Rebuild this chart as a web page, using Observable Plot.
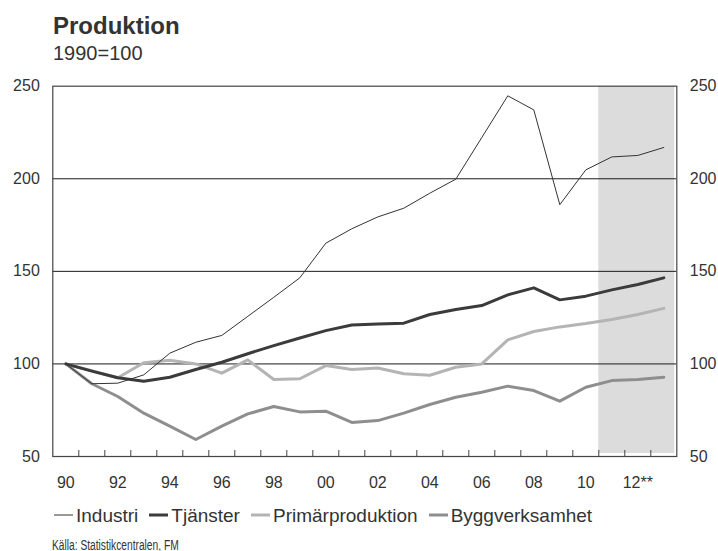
<!DOCTYPE html>
<html>
<head>
<meta charset="utf-8">
<script src="https://cdn.jsdelivr.net/npm/d3@7"></script>
<script src="https://cdn.jsdelivr.net/npm/@observablehq/plot@0.6"></script>
<style>
  body { margin: 0; background: #fff; font-family: "Liberation Sans", Arial, sans-serif; color: #333; }
  #wrap { position: relative; width: 718px; height: 551px; overflow: hidden; }
  .abs { position: absolute; line-height: 1; white-space: nowrap; }
  #title { left: 53px; top: 14px; font-size: 24px; font-weight: bold; }
  #subtitle { left: 53px; top: 43px; font-size: 20px; }
  #chart { position: absolute; left: 0; top: 70px; }
  #legend { left: 54px; top: 505.5px; font-size: 19px; display: flex; align-items: center; height: 19px; }
  .item { display: flex; align-items: center; margin-right: 11px; }
  .sw { width: 19px; margin-right: 3px; }
  #caption { left: 52px; top: 537.5px; font-size: 14px; transform: scaleX(0.73); transform-origin: left center; }
</style>
</head>
<body>
<div id="wrap">
  <div id="title" class="abs">Produktion</div>
  <div id="subtitle" class="abs">1990=100</div>
  <div id="chart"></div>
  <div id="legend" class="abs"></div>
  <div id="caption" class="abs">Källa: Statistikcentralen, FM</div>
</div>
<script>
const years = [1990,1991,1992,1993,1994,1995,1996,1997,1998,1999,2000,2001,2002,2003,2004,2005,2006,2007,2008,2009,2010,2011,2012,2013];
const industri = [100, 89.3, 89.6, 94.1, 105.8, 111.7, 115.4, 125.7, 136, 146.5, 165.2, 173, 179.4, 184.1, 192.2, 199.8, 222.3, 244.8, 237.2, 186, 204.8, 211.8, 212.6, 216.9];
const tjanster = [100, 96.1, 92.5, 90.7, 92.8, 97, 100.9, 105.5, 109.9, 114, 118, 121, 121.6, 122, 126.7, 129.4, 131.5, 137.3, 141.1, 134.6, 136.6, 140, 142.9, 146.5];
const primar = [100, 96.3, 92.5, 100.6, 102, 100, 95, 102.2, 91.6, 92, 99.1, 97, 97.8, 94.7, 93.9, 98.2, 100, 113, 117.5, 120, 121.8, 124, 126.7, 130];
const bygg = [100, 89.3, 82.4, 73.4, 66.4, 59.2, 66.4, 73, 77, 74.1, 74.5, 68.4, 69.4, 73.4, 78.1, 82, 84.7, 88, 85.6, 79.9, 87.4, 91, 91.6, 92.8];
const seriesNames = ["Industri", "Tjänster", "Primärproduktion", "Byggverksamhet"];
const forecastYears = [2011, 2012, 2013];
const tickYears = [1990,1992,1994,1996,1998,2000,2002,2004,2006,2008,2010,2012];
const tickLabels = ["90","92","94","96","98","00","02","04","06","08","10","12**"];
const yTicks = [50,100,150,200,250];
const gridValues = [100,150,200];

const styles = {
  "Industri": {stroke: "#333333", strokeWidth: 1},
  "Tjänster": {stroke: "#3b3b3b", strokeWidth: 3},
  "Primärproduktion": {stroke: "#b4b4b4", strokeWidth: 3},
  "Byggverksamhet": {stroke: "#8e8e8e", strokeWidth: 3}
};
const valuesBy = {"Industri": industri, "Tjänster": tjanster, "Primärproduktion": primar, "Byggverksamhet": bygg};
const rows = s => years.map((y, i) => ({year: y, value: valuesBy[s][i]}));
const bounds = years.slice(0, -1).map(y => y + 0.5);
const shade = [{x1: forecastYears[0] - 0.5, x2: forecastYears[forecastYears.length - 1] + 0.5}];
const labelOf = new Map(tickYears.map((y, i) => [y, tickLabels[i]]));

const marginTop = 15.7, marginBottom = 44;
const innerH = 430 - marginTop - marginBottom;

const plot = Plot.plot({
  width: 718,
  height: 430,
  marginLeft: 52.3,
  marginRight: 41.7,
  marginTop,
  marginBottom,
  style: {fontFamily: "'Liberation Sans', Arial, sans-serif", fontSize: "16px", color: "#333", background: "transparent"},
  x: {domain: [years[0] - 0.5, years[years.length - 1] + 0.5]},
  y: {domain: [50, 250]},
  marks: [
    Plot.rect(shade, {x1: "x1", x2: "x2", fill: "#dcdcdd", insetRight: 2, insetBottom: 3}),
    Plot.ruleY(gridValues, {stroke: "#1a1a1a", strokeWidth: 1}),
    Plot.ruleX(bounds, {stroke: "#444", strokeWidth: 1, insetTop: innerH - 6}),
    Plot.line(rows("Byggverksamhet"), {x: "year", y: "value", ...styles["Byggverksamhet"]}),
    Plot.line(rows("Primärproduktion"), {x: "year", y: "value", ...styles["Primärproduktion"]}),
    Plot.line(rows("Tjänster"), {x: "year", y: "value", ...styles["Tjänster"]}),
    Plot.line(rows("Industri"), {x: "year", y: "value", ...styles["Industri"]}),
    Plot.frame({stroke: "#444", strokeWidth: 1.2}),
    Plot.axisX({ticks: tickYears, tickFormat: d => labelOf.get(d), tickSize: 0, tickPadding: 20, label: null, fontSize: 16}),
    Plot.axisY({anchor: "left", ticks: yTicks, tickSize: 0, tickPadding: 13, label: null, fontSize: 16}),
    Plot.axisY({anchor: "right", ticks: yTicks, tickSize: 0, tickPadding: 13, label: null, fontSize: 16})
  ]
});
document.getElementById("chart").appendChild(plot);

const legend = document.getElementById("legend");
for (const s of seriesNames) {
  const item = document.createElement("div");
  item.className = "item";
  const sw = document.createElementNS("http://www.w3.org/2000/svg", "svg");
  sw.setAttribute("width", 19); sw.setAttribute("height", 6); sw.setAttribute("class", "sw");
  const ln = document.createElementNS("http://www.w3.org/2000/svg", "line");
  ln.setAttribute("x1", 0); ln.setAttribute("x2", 19); ln.setAttribute("y1", 3); ln.setAttribute("y2", 3);
  ln.setAttribute("stroke", styles[s].stroke); ln.setAttribute("stroke-width", styles[s].strokeWidth);
  sw.appendChild(ln);
  const t = document.createElement("span");
  t.textContent = s;
  item.appendChild(sw); item.appendChild(t);
  legend.appendChild(item);
}
</script>
</body>
</html>
